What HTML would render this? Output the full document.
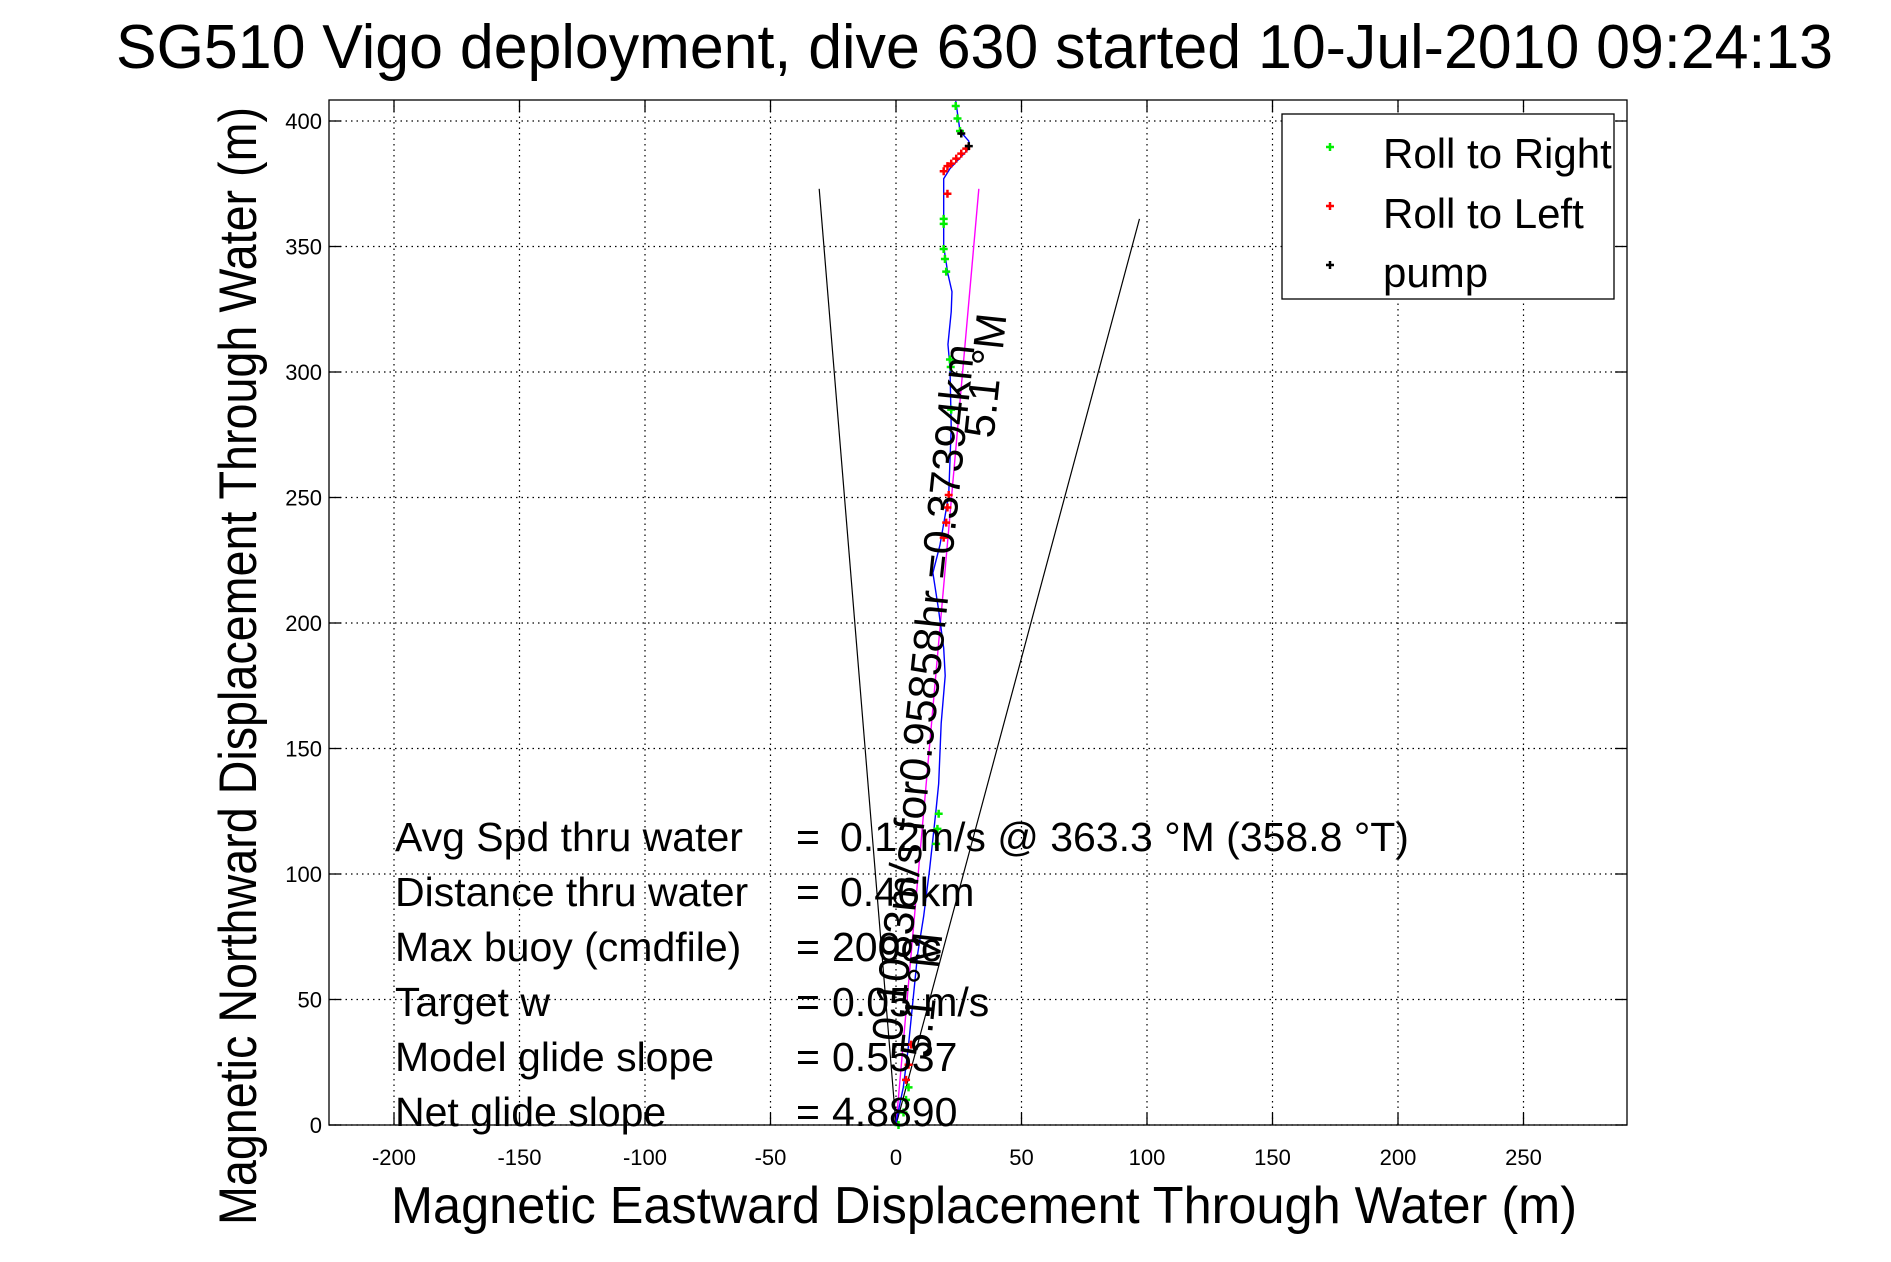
<!DOCTYPE html>
<html><head><meta charset="utf-8"><style>
html,body{margin:0;padding:0;background:#fff;}
svg{display:block;font-family:"Liberation Sans",sans-serif;}
</style></head><body>
<svg id="chart" width="1891" height="1262" viewBox="0 0 1891 1262">
<text x="116" y="68" font-size="62" textLength="1717" lengthAdjust="spacingAndGlyphs">SG510 Vigo deployment, dive 630 started 10-Jul-2010 09:24:13</text>
<g id="grid"></g>
<g id="ticks"></g>
<g id="lines"></g>
<rect x="329" y="100" width="1298" height="1025" fill="none" stroke="#000" stroke-width="1.3"/>
<text transform="translate(256,666) rotate(-90)" text-anchor="middle" font-size="53" textLength="1118" lengthAdjust="spacingAndGlyphs">Magnetic Northward Displacement Through Water (m)</text>
<text x="984" y="1223" text-anchor="middle" font-size="52" textLength="1186" lengthAdjust="spacingAndGlyphs">Magnetic Eastward Displacement Through Water (m)</text>
<g id="stats" font-size="41"></g>
<g font-size="43">
<text transform="translate(938,694) rotate(-84)" text-anchor="middle" textLength="700" lengthAdjust="spacingAndGlyphs">0.1083m/s for0.95858hr =0.37394km</text>
<text transform="translate(1000,377) rotate(-84)" text-anchor="middle">5.1 °M</text>
<text transform="translate(936,996) rotate(-84)" text-anchor="middle">5.1 °M</text>
</g>
<g>
<rect x="1282" y="114" width="332" height="185" fill="#fff" stroke="#000" stroke-width="1.3"/>
<path d="M1326,147h8M1330,143v8" stroke="#00ee00" stroke-width="2.5"/>
<text x="1383" y="168" font-size="42">Roll to Right</text>
<path d="M1326,206h8M1330,202v8" stroke="#ff0000" stroke-width="2.5"/>
<text x="1383" y="228" font-size="42">Roll to Left</text>
<path d="M1326,265h8M1330,261v8" stroke="#000" stroke-width="2.5"/>
<text x="1383" y="287" font-size="42">pump</text>
</g>
</svg>
<script>
const xTicks = [-200,-150,-100,-50,0,50,100,150,200,250];
const yTicks = [0,50,100,150,200,250,300,350,400];
const trackX = [0,2.9,4.8,6.7,8.6,11,13.4,16,17,18,19.6,19,17,14.7,17.5,21,22,21.5,20.7,22,22.3,20.7,19,19,19,21.5,29,29,25.5,23.8];
const trackY = [1,15,30,49,68,83,102,126,136,160,179,190,205,220,231,251,278,302,311,324,332,339,350,369,377,381,389,392,396,408];
const rightX = [23.8,24.5,25.5,19,19,19,19.5,20,21.5,21.8,22,16,16.5,17,3,4,5,1];
const rightY = [406,401,396,361,359,349,345,340,305,302,285,112,118,124,5,10,15,0];
const leftX = [28,26,24,22,20.5,19,20.5,21,20.5,20,19,4,5,6];
const leftY = [389,387,385,383,382,380,371,251,246,240,234,18,24,32];
const pumpX = [26,29];
const pumpY = [395,390];
const vLeftX = [0,-30.6], vLeftY = [0,373];
const vRightX = [0,97], vRightY = [0,361];
const magX = [0,33], magY = [0,373];
const statLabels = ["Avg Spd thru water","Distance thru water","Max buoy (cmdfile)","Target w","Model glide slope","Net glide slope"];
const statValues = [" 0.12m/s @ 363.3 °M (358.8 °T)"," 0.46km","200cc","0.05 m/s","0.5537","4.8890"];

const NS="http://www.w3.org/2000/svg";
const X0=896, XS=125.5/50, Y0=1125, YS=1004/400;
const L=329,R=1627,T=100,B=1125;
const sx=v=>X0+v*XS, sy=v=>Y0-v*YS;
function mk(tag,attrs,parent){const e=document.createElementNS(NS,tag);for(const k in attrs)e.setAttribute(k,attrs[k]);parent.appendChild(e);return e;}
const grid=document.getElementById('grid'), ticks=document.getElementById('ticks'), lines=document.getElementById('lines'), stats=document.getElementById('stats');
xTicks.forEach(v=>{
  const x=sx(v);
  const g=mk('line',{x1:x,x2:x,y1:T,y2:B,stroke:'#000','stroke-width':1.2,'stroke-dasharray':'1.5 4'},grid);
  
  
  mk('line',{x1:x,x2:x,y1:B,y2:B-12,stroke:'#000','stroke-width':1.3},ticks);
  mk('line',{x1:x,x2:x,y1:T,y2:T+12,stroke:'#000','stroke-width':1.3},ticks);
  const t=mk('text',{x:x,y:1165,'text-anchor':'middle','font-size':22},ticks);
  t.textContent=v;
  
  
});
yTicks.forEach(v=>{
  const y=sy(v);
  const g=mk('line',{x1:L,x2:R,y1:y,y2:y,stroke:'#000','stroke-width':1.2,'stroke-dasharray':'1.5 4'},grid);
  
  
  mk('line',{x1:L,x2:L+12,y1:y,y2:y,stroke:'#000','stroke-width':1.3},ticks);
  mk('line',{x1:R,x2:R-12,y1:y,y2:y,stroke:'#000','stroke-width':1.3},ticks);
  const t=mk('text',{x:322,y:y+8,'text-anchor':'end','font-size':22},ticks);
  t.textContent=v;
  
  
});
function poly(xs,ys,color,w,name){
  const p=mk('polyline',{points:xs.map((v,i)=>sx(v)+','+sy(ys[i])).join(' '),fill:'none',stroke:color,'stroke-width':w},lines);
  
  
}
poly(vLeftX,vLeftY,'#000',1.2,'cone-left-line');
poly(vRightX,vRightY,'#000',1.2,'cone-right-line');
poly(magX,magY,'#ff00ff',1.4,'heading-line');
poly(trackX,trackY,'#0000ff',1.4,'track-line');
function marks(xs,ys,color,name){
  xs.forEach((v,i)=>{
    const x=sx(v),y=sy(ys[i]);
    const p=mk('path',{d:`M${x-4},${y}h8M${x},${y-4}v8`,stroke:color,'stroke-width':2.5},lines);
    
    
  });
}
marks(rightX,rightY,'#00ee00','roll-right-marker');
marks(leftX,leftY,'#ff0000','roll-left-marker');
marks(pumpX,pumpY,'#000','pump-marker');
statLabels.forEach((s,i)=>{
  const y=851+55*i;
  const a=mk('text',{x:395,y:y},stats); a.textContent=s;
  
  
  const e=mk('text',{x:796,y:y},stats); e.textContent='=';
  
  
  const b=mk('text',{x:statValues[i].startsWith(' ')?840:832,y:y},stats); b.textContent=statValues[i].trim();
  
  
});
</script>
</body></html>
